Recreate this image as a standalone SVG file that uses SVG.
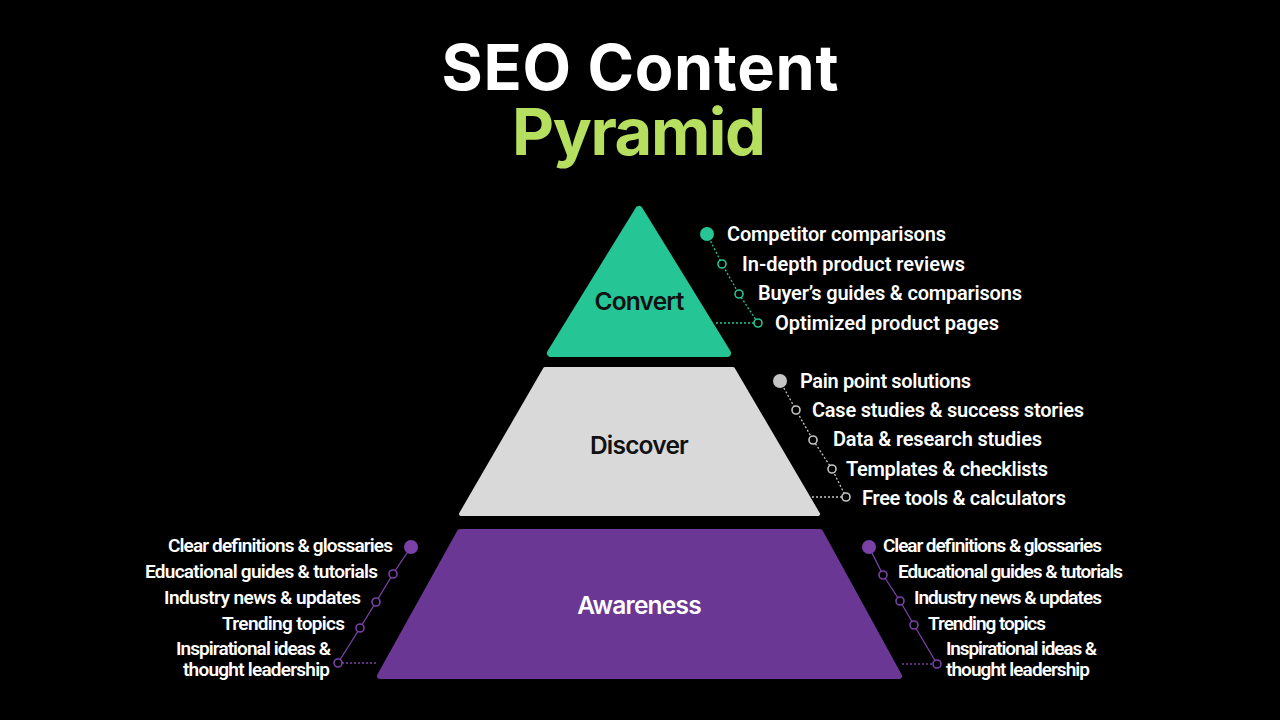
<svg xmlns="http://www.w3.org/2000/svg" width="1280" height="720" viewBox="0 0 1280 720">
<style>
.title{font-family:Inter,"Liberation Sans",sans-serif;font-weight:700;text-anchor:middle}
.layer{font-family:Inter,"Liberation Sans",sans-serif;font-weight:600;font-size:24.5px;text-anchor:middle;letter-spacing:-0.8px}
.item{font-family:Roboto,"Liberation Sans",sans-serif;font-weight:600;font-size:20px;fill:#ffffff}
.aw{font-size:19px}
.end{text-anchor:end}
.hollow{fill:#000;stroke-width:1.6}
.g{stroke:#25c596}
.s{stroke:#c4c4c4}
.p{stroke:#7a42a8}
.dot{stroke-width:1.3;fill:none;stroke-dasharray:2 2}
.sol{stroke-width:1.3;fill:none}
</style>
<rect width="1280" height="720" fill="#000"/>
<g id="title">
<text class="title" x="640" y="90" font-size="63" fill="#ffffff" textLength="397" lengthAdjust="spacing">SEO Content</text>
<text class="title" x="639" y="155" font-size="65" fill="#b6de5f" textLength="254" lengthAdjust="spacing">Pyramid</text>
</g>
<g id="convert">
<polygon points="639,210 551,353 727,353" fill="#25c596" stroke="#25c596" stroke-width="8" stroke-linejoin="round"/>
<text class="layer" x="639" y="310" fill="#111">Convert</text>
</g>
<g id="discover">
<polygon points="545,369 733,369 818,514 461,514" fill="#d9d9d9" stroke="#d9d9d9" stroke-width="4" stroke-linejoin="round"/>
<text class="layer" x="639" y="454" fill="#111">Discover</text>
</g>
<g id="awareness">
<polygon points="460,532 820,532 899,676 380,676" fill="#6a3795" stroke="#6a3795" stroke-width="6" stroke-linejoin="round"/>
<text class="layer" x="639" y="614" fill="#ffffff">Awareness</text>
</g>
<g id="connectors">
<polyline class="dot g" points="707,234 722,264 739,294 758,323"/>
<line class="dot g" x1="716" y1="323" x2="754" y2="323"/>
<polyline class="dot s" points="780,381 796,410 813,440 832,469 846,497"/>
<line class="dot s" x1="812" y1="497" x2="842" y2="497"/>
<polyline class="sol p" points="411,547 393,574 376,602 360,628 338,663"/>
<line class="dot p" x1="342" y1="663" x2="378" y2="663"/>
<polyline class="sol p" points="869,547 883,575 900,601 914,625 937,664"/>
<line class="dot p" x1="902" y1="664" x2="933" y2="664"/>
</g>
<g id="convert-list">
<circle cx="707" cy="234" r="7" fill="#25c596"/>
<circle class="hollow g" cx="722" cy="264" r="4"/>
<circle class="hollow g" cx="739" cy="294" r="4"/>
<circle class="hollow g" cx="758" cy="323" r="4"/>
<text class="item" x="727" y="241" textLength="219" lengthAdjust="spacing">Competitor comparisons</text>
<text class="item" x="742" y="271" textLength="223" lengthAdjust="spacing">In-depth product reviews</text>
<text class="item" x="758" y="300" textLength="264" lengthAdjust="spacing">Buyer’s guides &amp; comparisons</text>
<text class="item" x="775" y="330" textLength="224" lengthAdjust="spacing">Optimized product pages</text>
</g>
<g id="discover-list">
<circle cx="780" cy="381" r="7" fill="#c4c4c4"/>
<circle class="hollow s" cx="796" cy="410" r="4"/>
<circle class="hollow s" cx="813" cy="440" r="4"/>
<circle class="hollow s" cx="832" cy="469" r="4"/>
<circle class="hollow s" cx="846" cy="497" r="4"/>
<text class="item" x="800" y="388" textLength="171" lengthAdjust="spacing">Pain point solutions</text>
<text class="item" x="812" y="417" textLength="272" lengthAdjust="spacing">Case studies &amp; success stories</text>
<text class="item" x="833" y="446" textLength="209" lengthAdjust="spacing">Data &amp; research studies</text>
<text class="item" x="846" y="476" textLength="202" lengthAdjust="spacing">Templates &amp; checklists</text>
<text class="item" x="862" y="505" textLength="204" lengthAdjust="spacing">Free tools &amp; calculators</text>
</g>
<g id="awareness-left-list">
<circle cx="411" cy="547" r="7" fill="#7a42a8"/>
<circle class="hollow p" cx="393" cy="574" r="4"/>
<circle class="hollow p" cx="376" cy="602" r="4"/>
<circle class="hollow p" cx="360" cy="628" r="4"/>
<circle class="hollow p" cx="338" cy="663" r="4"/>
<text class="item aw end" x="393" y="552" textLength="225" lengthAdjust="spacing">Clear definitions &amp; glossaries</text>
<text class="item aw end" x="378" y="578" textLength="233" lengthAdjust="spacing">Educational guides &amp; tutorials</text>
<text class="item aw end" x="361" y="604" textLength="197" lengthAdjust="spacing">Industry news &amp; updates</text>
<text class="item aw end" x="345" y="630" textLength="123" lengthAdjust="spacing">Trending topics</text>
<text class="item aw end" x="331" y="655" textLength="155" lengthAdjust="spacing">Inspirational ideas &amp;</text>
<text class="item aw end" x="330" y="676" textLength="147" lengthAdjust="spacing">thought leadership</text>
</g>
<g id="awareness-right-list">
<circle cx="869" cy="547" r="7" fill="#7a42a8"/>
<circle class="hollow p" cx="883" cy="575" r="4"/>
<circle class="hollow p" cx="900" cy="601" r="4"/>
<circle class="hollow p" cx="914" cy="625" r="4"/>
<circle class="hollow p" cx="937" cy="664" r="4"/>
<text class="item aw" x="883" y="552" textLength="219" lengthAdjust="spacing">Clear definitions &amp; glossaries</text>
<text class="item aw" x="898" y="578" textLength="225" lengthAdjust="spacing">Educational guides &amp; tutorials</text>
<text class="item aw" x="914" y="604" textLength="188" lengthAdjust="spacing">Industry news &amp; updates</text>
<text class="item aw" x="928" y="630" textLength="118" lengthAdjust="spacing">Trending topics</text>
<text class="item aw" x="946" y="655" textLength="151" lengthAdjust="spacing">Inspirational ideas &amp;</text>
<text class="item aw" x="946" y="676" textLength="144" lengthAdjust="spacing">thought leadership</text>
</g>
</svg>
